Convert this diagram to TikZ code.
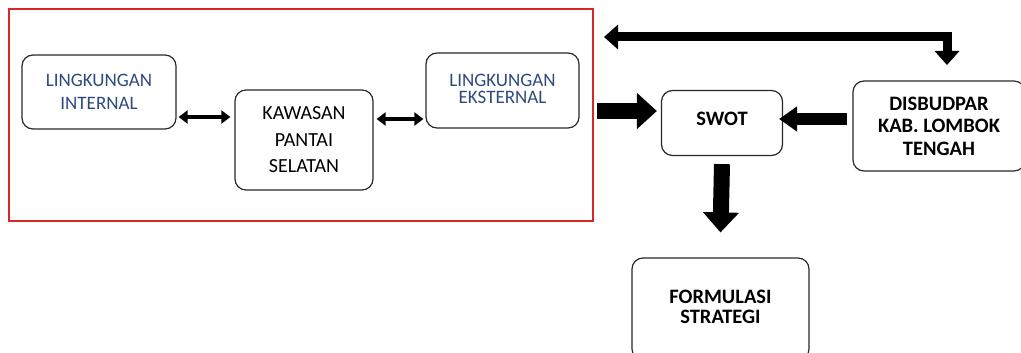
\documentclass[tikz,border=0pt]{standalone}
\usepackage{fontspec}
\setmainfont{Carlito}
\usetikzlibrary{arrows.meta}
\definecolor{txtblue}{RGB}{46,74,125}
\definecolor{framered}{RGB}{215,40,40}
\definecolor{boxline}{RGB}{40,40,40}
\begin{document}
\begin{tikzpicture}[x=1pt,y=-1pt,
  box/.style={draw=boxline,line width=1.2pt,rounded corners=11pt,align=center,inner sep=0pt,font=\fontsize{20}{22.5}\selectfont},
  bluebox/.style={box,text=txtblue,font=\fontsize{19}{22.5}\selectfont},
  blackbox/.style={box,font=\fontsize{20.5}{22.5}\selectfont\bfseries},
  thinarrow/.style={line width=4pt,{Triangle[length=9pt,width=13pt]}-{Triangle[length=9pt,width=13pt]}},
  fatarrow/.style={line width=16pt,-{Triangle[length=20pt,width=35pt]}},
  midarrow/.style={line width=12pt,-{Triangle[length=18pt,width=24pt]}},
  looparrow/.style={line width=9pt,{Triangle[length=14pt,width=24pt]}-{Triangle[length=14pt,width=24pt]}}
]
\useasboundingbox (0,0) rectangle (1021,353);
\node[draw=framered,line width=1.2pt,minimum width=584pt,minimum height=212pt,inner sep=0pt] (frame) at (301,115) {};
\node[bluebox,minimum width=154pt,minimum height=74pt] (intl) at (99,92) {LINGKUNGAN\\INTERNAL};
\node[box,minimum width=138pt,minimum height=100pt] (kaw) at (304,140) {KAWASAN\\[4pt]PANTAI\\[4pt]SELATAN};
\node[bluebox,minimum width=153pt,minimum height=75pt] (ekst) at (502.5,90.5) {\raisebox{3pt}{\shortstack{LINGKUNGAN\\[2pt]EKSTERNAL}}};
\node[blackbox,minimum width=121pt,minimum height=65pt] (swot) at (722,123) {\raisebox{8pt}{SWOT}};
\node[blackbox,minimum width=172pt,minimum height=90pt] (disb) at (939,126) {DISBUDPAR\\KAB. LOMBOK\\TENGAH};
\node[blackbox,minimum width=177pt,minimum height=102pt] (form) at (720.5,309) {\raisebox{4pt}{\shortstack{FORMULASI\\[3pt]STRATEGI}}};
% connectors
\draw[thinarrow] ([xshift=2pt]intl.east |- 0,117) -- ([xshift=-4pt]kaw.west |- 0,117);
\draw[thinarrow] ([xshift=3pt]kaw.east |- 0,119) -- ([xshift=-2pt]ekst.west |- 0,119);
\draw[fatarrow] ([xshift=3pt]frame.east |- 0,111) -- ([xshift=-4pt]swot.west |- 0,111);
\draw[midarrow] ([xshift=-5pt]disb.west |- 0,119) -- ([xshift=-4pt]swot.east |- 0,119);
\draw[fatarrow] ([yshift=-8pt]swot.south) -- ([yshift=25pt]form.north);
\coordinate (loopL) at (604,37);
\coordinate (loopR) at (947,65);
\draw[looparrow] (loopL) -- (loopR |- loopL) -- (loopR);
\end{tikzpicture}
\end{document}
